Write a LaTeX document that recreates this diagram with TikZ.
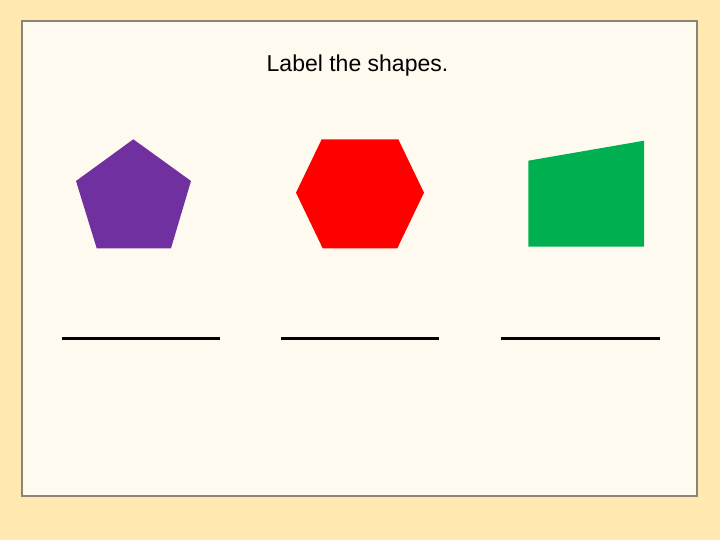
\documentclass[tikz,border=0pt]{standalone}
\usepackage{fontspec}
\setmainfont{Liberation Sans}
\usepackage{xcolor}

\definecolor{PageBack}{HTML}{FFE9B1}
\definecolor{PanelBack}{HTML}{FFFAEF}
\definecolor{PanelEdge}{HTML}{8C8478}
\definecolor{PentColor}{HTML}{7030A0}
\definecolor{HexColor}{HTML}{FF0000}
\definecolor{QuadColor}{HTML}{00B050}

\tikzset{
	blank/.style = {line width=2.5pt, black},
	title/.style = {font=\fontsize{23}{26}\selectfont, anchor=base}
}

\begin{document}
\begin{tikzpicture}[x=1pt,y=-1pt]
		 %\draw[help lines] (0,0) grid (720,540);
		 \fill[PageBack] (0,0) rectangle (720,540);
		 \draw[line width=2pt, draw=PanelEdge, fill=PanelBack] (22,21) rectangle (697,496);

		 \node[title] (ask) at (357.5,71.7) {Label the shapes.};

		 % pentagon
		 \fill[PentColor] (133.3,139.3) -- (191,181) -- (171,248.3) -- (96.7,248.3) -- (76,181) -- cycle;
		 % hexagon
		 \fill[HexColor] (321.7,139.3) -- (398.3,139.3) -- (424,192.7) -- (397.3,248.3) -- (322.7,248.3) -- (296,192.7) -- cycle;
		 % quadrilateral
		 \fill[QuadColor] (528.3,160.7) -- (644,140.7) -- (644,246.7) -- (528.3,246.7) -- cycle;

		 \draw[blank] (62,338.5) -- (220,338.5);
		 \draw[blank] (281,338.5) -- (439,338.5);
		 \draw[blank] (501,338.5) -- (660,338.5);
\end{tikzpicture}
\end{document}
